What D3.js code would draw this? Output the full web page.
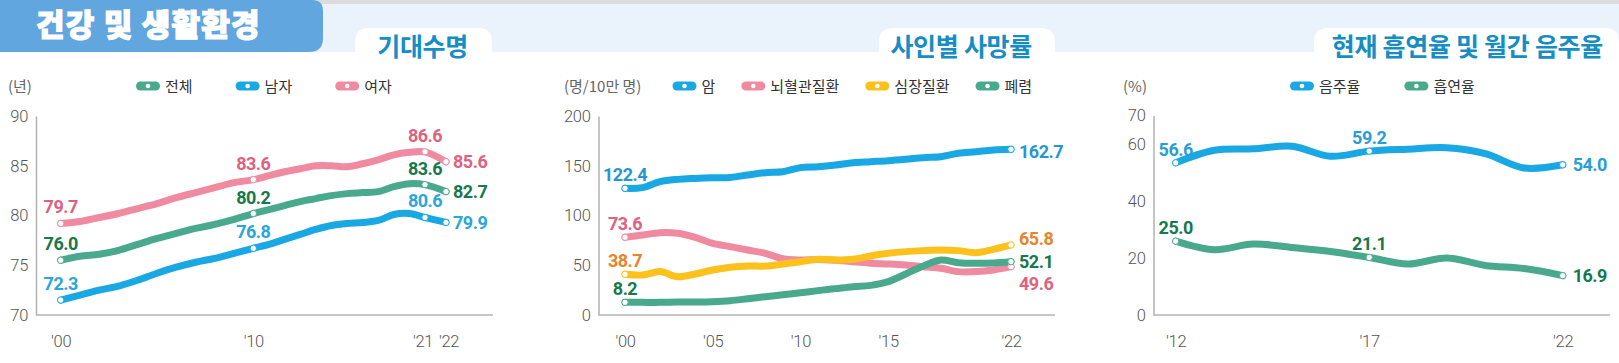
<!DOCTYPE html>
<html>
<head>
<meta charset="utf-8">
<script src="https://cdn.jsdelivr.net/npm/d3@7"></script>
<style>
  body { margin: 0; background: #fff; }
  svg { display: block; font-family: "Noto Sans CJK KR", "Noto Sans", sans-serif; }
  .tick text { font-family: Roboto, sans-serif; font-weight: 300; font-size: 16.5px; letter-spacing: -0.3px; fill: #555; }
  .val { font-family: Roboto, sans-serif; font-weight: 700; font-size: 18px; letter-spacing: -0.5px; }
  .legend text { font-size: 15px; fill: #333; }
  .unit { font-size: 15px; fill: #666; }
  .tab-title { font-size: 25px; font-weight: 700; fill: #168dc4; letter-spacing: -0.3px; }
</style>
</head>
<body>
<div id="chart"></div>
<script>

// ---------- data ----------

// 기대수명
const lifeYears = [2000, 2001, 2002, 2003, 2004, 2005, 2006, 2007, 2008, 2009, 2010, 2011,
                   2012, 2013, 2014, 2015, 2016, 2017, 2018, 2019, 2020, 2021, 2022]
const lifeTotal  = [75.5, 75.9, 76.1, 76.5, 77.1, 77.7, 78.2, 78.7, 79.1, 79.6, 80.2, 80.6,
                    81.0, 81.4, 81.7, 82.0, 82.2, 82.3, 82.4, 82.9, 83.2, 83.1, 82.4]
const lifeMale   = [71.5, 72.0, 72.5, 72.9, 73.5, 74.2, 74.8, 75.3, 75.7, 76.2, 76.7, 77.1,
                    77.6, 78.1, 78.6, 79.0, 79.2, 79.3, 79.5, 80.1, 80.2, 79.8, 79.3]
const lifeFemale = [79.2, 79.4, 79.8, 80.2, 80.7, 81.2, 81.8, 82.3, 82.8, 83.3, 83.6, 84.0,
                    84.4, 84.7, 85.0, 85.0, 84.9, 85.2, 85.6, 86.1, 86.35, 86.4, 85.4]
const lifeLabelYears = [2000, 2010, 2021, 2022]
const lifeTotalLabels  = ["76.0", "80.2", "83.6", "82.7"]
const lifeMaleLabels   = ["72.3", "76.8", "80.6", "79.9"]
const lifeFemaleLabels = ["79.7", "83.6", "86.6", "85.6"]
const lifeTicksX = [2000, 2010, 2021, 2022]
const lifeTicksY = [70, 75, 80, 85, 90]

// 사인별 사망률
const deathYears = [2000, 2001, 2002, 2003, 2004, 2005, 2006, 2007, 2008, 2009, 2010, 2011,
                    2012, 2013, 2014, 2015, 2016, 2017, 2018, 2019, 2020, 2021, 2022]
const cancer    = [127.3, 128.0, 134.0, 136.3, 137.3, 138.0, 138.3, 140.7, 143.0, 144.0, 148.1, 149.1,
                   150.8, 153.1, 154.1, 155.1, 156.5, 158.1, 159.1, 162.5, 164.1, 165.8, 166.5]
const stroke    = [78.1, 80.4, 82.7, 82.1, 78.1, 72.0, 68.7, 65.3, 62.0, 56.5, 55.3, 55.8,
                   55.0, 53.6, 52.0, 51.3, 50.3, 48.6, 47.0, 43.6, 43.6, 45.3, 48.6]
const heart     = [40.9, 40.2, 43.6, 38.5, 41.2, 45.2, 47.9, 49.2, 49.2, 51.3, 53.6, 56.0,
                   55.3, 56.0, 59.3, 62.0, 63.7, 64.7, 65.3, 64.7, 62.6, 66.0, 70.4]
const pneumonia = [12.7, 12.7, 12.7, 13.1, 13.1, 13.4, 14.4, 16.4, 18.4, 20.4, 22.4, 24.5,
                   26.5, 28.5, 29.8, 33.5, 41.2, 49.2, 55.3, 52.6, 52.0, 52.3, 53.6]
const deathLabelYears = [2000, 2022]
const cancerLabels    = ["122.4", "162.7"]
const strokeLabels    = ["73.6", "49.6"]
const heartLabels     = ["38.7", "65.8"]
const pneumoniaLabels = ["8.2", "52.1"]
const deathTicksX = [2000, 2005, 2010, 2015, 2022]
const deathTicksY = [0, 50, 100, 150, 200]

// 현재 흡연율 및 월간 음주율
const habitYears = [2012, 2013, 2014, 2015, 2016, 2017, 2018, 2019, 2020, 2021, 2022]
const drinking = [53.4, 57.8, 58.3, 59.2, 55.7, 57.5, 58.2, 58.7, 56.6, 51.6, 52.7]
const smoking  = [25.9, 22.9, 24.9, 23.7, 22.3, 20.2, 17.9, 20.0, 17.4, 16.3, 13.8]
const habitLabelYears = [2012, 2017, 2022]
const drinkingLabels = ["56.6", "59.2", "54.0"]
const smokingLabels  = ["25.0", "21.1", "16.9"]
const habitTicksX = [2012, 2017, 2022]
const habitTicksY = [0, 20, 40, 60, 70]

// ---------- page frame ----------

const W = 1619, H = 363

const svg = d3.select("#chart").append("svg")
    .attr("width", W)
    .attr("height", H)

svg.append("rect").attr("x", 0).attr("y", 0).attr("width", W).attr("height", 52).attr("fill", "#eaf2fc")
svg.append("rect").attr("x", 0).attr("y", 0).attr("width", W).attr("height", 4).attr("fill", "#dcdcdc")

// blue header tab
svg.append("path")
    .attr("d", "M0,0 H312 Q323,0 323,11 V38 Q323,52 309,52 H0 Z")
    .attr("fill", "#62a6df")
svg.append("text")
    .attr("x", 36).attr("y", 36)
    .attr("font-size", 31).attr("font-weight", 900)
    .attr("letter-spacing", 1.2)
    .attr("fill", "#fff")
    .attr("stroke", "#fff").attr("stroke-width", 1.2)
    .text("건강 및 생활환경")

// white section tabs
function sectionTab(x0, x1, title, textRight) {
    svg.append("path")
        .attr("d", `M${x0},52 V42 Q${x0},28 ${x0 + 14},28 H${x1 - 14} Q${x1},28 ${x1},42 V52 Z`)
        .attr("fill", "#fff")
    svg.append("text")
        .attr("class", "tab-title")
        .attr("x", textRight).attr("y", 56)
        .attr("text-anchor", "end")
        .text(title)
}
sectionTab(355, 492, "기대수명", 468)
sectionTab(879, 1055, "사인별 사망률", 1032)
sectionTab(1314, 1619, "현재 흡연율 및 월간 음주율", 1603)

// ---------- chart function ----------

function LineChart(cfg) {
    const g = svg.append("g")
    const x = cfg.x, y = cfg.y
    const baseY = y.range()[0]

    // x axis line spans the full plot width
    g.append("line")
        .attr("x1", cfg.axisX).attr("x2", cfg.axisEnd)
        .attr("y1", baseY).attr("y2", baseY)
        .attr("stroke", "#b3b3b3").attr("stroke-width", 1.5)

    g.append("g")
        .attr("class", "axis y-axis")
        .attr("transform", `translate(${cfg.axisX},0)`)
        .call(d3.axisLeft(y).tickValues(cfg.yTicks).tickSize(0).tickSizeOuter(0).tickPadding(8))
        .call(a => a.select(".domain").attr("stroke", "#b3b3b3").attr("stroke-width", 1.5))

    g.append("g")
        .attr("class", "axis x-axis")
        .attr("transform", `translate(0,${baseY})`)
        .call(d3.axisBottom(x).tickValues(cfg.xTicks).tickSize(0).tickPadding(20)
            .tickFormat(d => "'" + String(d).slice(2)))
        .call(a => a.select(".domain").remove())
        // spread crowded neighbouring tick labels a little
        .call(a => a.selectAll(".tick text").attr("dx", d => (cfg.tickNudge && cfg.tickNudge[d]) || 0))

    const line = d3.line()
        .x(d => x(d.year))
        .y(d => y(d.value))
        .curve(d3.curveCatmullRom.alpha(0.5))

    cfg.series.forEach(s => {
        const pts = s.years.map((yr, i) => ({ year: yr, value: s.values[i] }))
        g.append("path")
            .datum(pts)
            .attr("d", line)
            .attr("fill", "none")
            .attr("stroke", s.color)
            .attr("stroke-width", 7)
            .attr("stroke-linecap", "round")
            .attr("stroke-linejoin", "round")
    })

    // markers + value labels on top of all lines
    cfg.series.forEach(s => {
        s.labelYears.forEach((yr, i) => {
            const v = s.values[s.years.indexOf(yr)]
            const px = x(yr), py = y(v)
            g.append("circle")
                .attr("cx", px).attr("cy", py).attr("r", 3.2)
                .attr("fill", "#fff")
                .attr("stroke", s.color).attr("stroke-width", 1)
            const last = i === s.labelYears.length - 1
            g.append("text")
                .attr("class", "val")
                .attr("x", last ? px + cfg.rightPad : px)
                .attr("y", last ? py + 6.5 + (s.shift || 0) : py - cfg.topPad)
                .attr("text-anchor", last ? "start" : "middle")
                .attr("fill", s.labelColor)
                .text(s.labels[i])
        })
    })

    // unit
    g.append("text").attr("class", "unit")
        .attr("x", cfg.unitX).attr("y", 92)
        .text(cfg.unit)

    // legend
    const lg = g.append("g").attr("class", "legend")
    let lx = cfg.legendX
    const ly = 86
    cfg.series.forEach(s => {
        lg.append("rect")
            .attr("x", lx).attr("y", ly - 4.5)
            .attr("width", 24).attr("height", 9).attr("rx", 4.5)
            .attr("fill", s.color)
        lg.append("circle")
            .attr("cx", lx + 12).attr("cy", ly).attr("r", 2.3)
            .attr("fill", "#fff")
        const t = lg.append("text")
            .attr("x", lx + 29).attr("y", ly + 5.5)
            .text(s.name)
        lx += 29 + t.node().getComputedTextLength() + cfg.legendGap
    })
}

// ---------- charts ----------

const GREEN = "#49a98d", BLUE = "#19a8e4", PINK = "#f08aa0", YELLOW = "#fcc21b"

LineChart({
    x: d3.scaleLinear().domain([2000, 2010, 2021, 2022]).range([60.7, 253.3, 425, 446]),
    y: d3.scaleLinear().domain([70, 90]).range([315, 116]),
    axisX: 36, axisEnd: 493,
    xTicks: lifeTicksX, yTicks: lifeTicksY,
    tickNudge: { 2021: -2.5, 2022: 2.5 },
    topPad: 10, rightPad: 7,
    unit: "(년)", unitX: 8,
    legendX: 136, legendGap: 43,
    series: [
        { name: "전체", years: lifeYears, values: lifeTotal, labelYears: lifeLabelYears,
          labels: lifeTotalLabels, color: GREEN, labelColor: "#16794c" },
        { name: "남자", years: lifeYears, values: lifeMale, labelYears: lifeLabelYears,
          labels: lifeMaleLabels, color: BLUE, labelColor: "#2aa6dc" },
        { name: "여자", years: lifeYears, values: lifeFemale, labelYears: lifeLabelYears,
          labels: lifeFemaleLabels, color: PINK, labelColor: "#e0617f" }
    ]
})

LineChart({
    x: d3.scaleLinear().domain([2000, 2022]).range([625, 1011]),
    y: d3.scaleLinear().domain([0, 200]).range([315, 116]),
    axisX: 598.5, axisEnd: 1055,
    xTicks: deathTicksX, yTicks: deathTicksY,
    topPad: 7, rightPad: 8,
    unit: "(명/10만 명)", unitX: 564,
    legendX: 672.5, legendGap: 26,
    series: [
        { name: "암", years: deathYears, values: cancer, labelYears: deathLabelYears,
          labels: cancerLabels, color: BLUE, labelColor: "#2596d1", shift: 2 },
        { name: "뇌혈관질환", years: deathYears, values: stroke, labelYears: deathLabelYears,
          labels: strokeLabels, color: PINK, labelColor: "#e0617f", shift: 17 },
        { name: "심장질환", years: deathYears, values: heart, labelYears: deathLabelYears,
          labels: heartLabels, color: YELLOW, labelColor: "#e8832a", shift: -6 },
        { name: "폐렴", years: deathYears, values: pneumonia, labelYears: deathLabelYears,
          labels: pneumoniaLabels, color: GREEN, labelColor: "#16794c" }
    ]
})

LineChart({
    x: d3.scaleLinear().domain([2012, 2022]).range([1175.7, 1562.7]),
    y: d3.scaleLinear().domain([0, 70]).range([315, 115.5]),
    axisX: 1153.5, axisEnd: 1610,
    xTicks: habitTicksX, yTicks: habitTicksY,
    topPad: 7, rightPad: 10,
    unit: "(%)", unitX: 1123,
    legendX: 1290, legendGap: 44,
    series: [
        { name: "음주율", years: habitYears, values: drinking, labelYears: habitLabelYears,
          labels: drinkingLabels, color: BLUE, labelColor: "#2a9dd5" },
        { name: "흡연율", years: habitYears, values: smoking, labelYears: habitLabelYears,
          labels: smokingLabels, color: GREEN, labelColor: "#16794c" }
    ]
})

</script>
</body>
</html>
